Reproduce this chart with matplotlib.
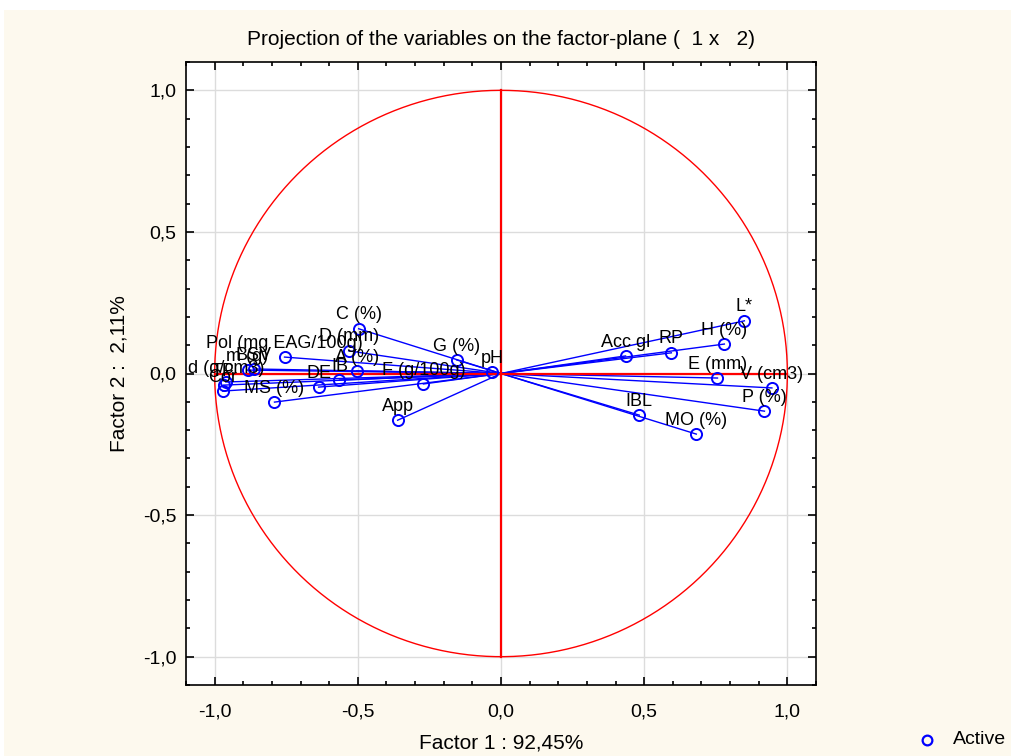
import matplotlib
matplotlib.use("Agg")
import matplotlib.pyplot as plt
import numpy as np
from matplotlib.patches import Rectangle
from matplotlib.lines import Line2D
from matplotlib.ticker import MultipleLocator, FuncFormatter

# factor loadings of the active variables on factors 1 and 2
labels = ["L*", "H (%)", "RP", "Acc gl", "E (mm)", "V (cm3)", "P (%)", "IBL", "MO (%)",
          "pH", "G (%)", "C (%)", "D (mm)", "A (%)", "IB", "DE", "F (g/100g)", "App",
          "MS (%)", "Pol (mg EAG/100g)",
          "d (g/cm3)", "Cor", "TP", "m (g)", "BSV"]
factor1 = [0.850, 0.780, 0.595, 0.435, 0.756, 0.946, 0.920, 0.483, 0.682,
           -0.030, -0.155, -0.497, -0.532, -0.504, -0.564, -0.637, -0.271, -0.361,
           -0.791, -0.756,
           -0.961, -0.972, -0.969, -0.885, -0.864]
factor2 = [0.186, 0.104, 0.073, 0.062, -0.016, -0.051, -0.133, -0.147, -0.214,
           0.005, 0.048, 0.158, 0.080, 0.009, -0.023, -0.048, -0.037, -0.165,
           -0.101, 0.058,
           -0.030, -0.062, -0.041, 0.012, 0.016]

plt.rcParams["font.family"] = ["Liberation Sans", "DejaVu Sans"]

fig = plt.figure(figsize=(10.12, 7.56), dpi=100)
fig.patch.set_facecolor("white")
fig.add_artist(Rectangle((4 / 1012, 0), 1, 1 - 10 / 756, transform=fig.transFigure,
                         facecolor="#fdf9ee", edgecolor="none", zorder=-10))

ax = fig.add_axes([186 / 1012, 1 - 685 / 756, 630 / 1012, 623 / 756])
ax.set_facecolor("white")
ax.set_xlim(-1.1, 1.1)
ax.set_ylim(-1.1, 1.1)

# unit circle and the two axes through the origin
t = np.linspace(0, 2 * np.pi, 400)
ax.plot(np.cos(t), np.sin(t), color="red", lw=1.0, zorder=4)
ax.plot([-1, 1], [0, 0], color="red", lw=1.6, zorder=4)
ax.plot([0, 0], [-1, 1], color="red", lw=1.6, zorder=4)

for x, y, name in zip(factor1, factor2, labels):
    ax.plot([0, x], [0, y], color="blue", lw=1.0, zorder=3)
    ax.annotate(name, (x, y), xytext=(0, 10), textcoords="offset points",
                ha="center", va="center", fontsize=13, color="black",
                annotation_clip=False, zorder=6)
ax.plot(factor1, factor2, "o", ms=8, mfc="none", mec="blue", mew=1.4, zorder=5)

ax.xaxis.set_major_locator(MultipleLocator(0.5))
ax.yaxis.set_major_locator(MultipleLocator(0.5))
ax.xaxis.set_minor_locator(MultipleLocator(0.1))
ax.yaxis.set_minor_locator(MultipleLocator(0.1))
comma = FuncFormatter(lambda v, p: f"{v:.1f}".replace(".", ","))
ax.xaxis.set_major_formatter(comma)
ax.yaxis.set_major_formatter(comma)
ax.tick_params(which="both", direction="in", top=True, right=True, width=1.2)
ax.tick_params(which="major", length=6, labelsize=14)
ax.tick_params(axis="x", which="major", pad=13)
ax.tick_params(axis="y", which="major", pad=7)
ax.tick_params(which="minor", length=3)
ax.grid(True, which="major", color="#dcdcdc", lw=1.0)
ax.set_axisbelow(True)
for s in ax.spines.values():
    s.set_linewidth(1.2)

ax.set_title("Projection of the variables on the factor-plane (  1 x   2)",
             fontsize=15, pad=12)
ax.set_xlabel("Factor 1 : 92,45%", fontsize=15, labelpad=10)
ax.set_ylabel("Factor 2 :  2,11%", fontsize=15, labelpad=10)

# legend entry in the lower right corner of the figure
fig.add_artist(Line2D([927 / 1012], [1 - 740 / 756], marker="o", ms=7, mfc="none",
                      mec="blue", mew=1.6, ls="none", transform=fig.transFigure))
fig.text(953 / 1012, 1 - 740 / 756, "Active", fontsize=14, va="center", ha="left")

fig.savefig("out.png", dpi=100, facecolor=fig.get_facecolor())
